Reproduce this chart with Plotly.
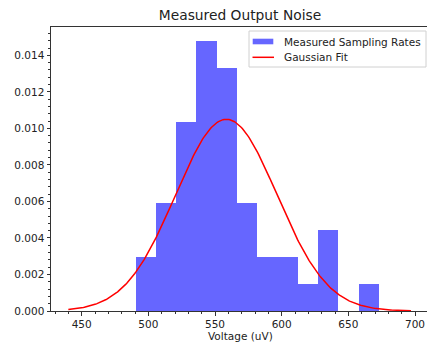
import numpy as np
import plotly.graph_objects as go

# Histogram (density)
bin_start = 490.5
bin_width = 15.2
density = [0.00296, 0.00593, 0.01037, 0.01481, 0.01333, 0.00593,
           0.00296, 0.00296, 0.00148, 0.00444, 0.0, 0.00148]

# Gaussian fit parameters
fit_mu = 558.5
fit_sigma = 38.0
fit_xmin = 440.0
fit_xmax = 697.0

x_ticks = [450, 500, 550, 600, 650, 700]
y_ticks = [0.000, 0.002, 0.004, 0.006, 0.008, 0.010, 0.012, 0.014]
legend_labels = ["Measured Sampling Rates", "Gaussian Fit"]
x_title = "Voltage (uV)"

edges = bin_start + bin_width * np.arange(len(density))
xs = np.linspace(fit_xmin, fit_xmax, 300)
ys = np.exp(-0.5 * ((xs - fit_mu) / fit_sigma) ** 2) / (fit_sigma * np.sqrt(2 * np.pi))

FONT = "DejaVu Sans"
TXT = "#222222"
BAR = "#6666ff"
RED = "#ff0000"

fig = go.Figure()
fig.add_trace(go.Bar(
    x=edges, y=density, width=bin_width, offset=0,
    marker=dict(color=BAR, line=dict(width=0)),
    name=legend_labels[0], showlegend=False,
))
fig.add_trace(go.Scatter(
    x=xs, y=ys, mode="lines", line=dict(color=RED, width=1.5),
    name=legend_labels[1], showlegend=False,
))

# plot area geometry in window pixels
L, T, W, H = 51, 27, 376, 284
def px(xp):
    return (xp - L) / W
def py(yp):
    return (T + H - yp) / H

shapes = [
    dict(type="rect", xref="paper", yref="paper",
         x0=px(249), x1=px(426), y0=py(67), y1=py(31),
         line=dict(color="#d0d0d0", width=1), fillcolor="rgba(255,255,255,0.85)", layer="above"),
    dict(type="rect", xref="paper", yref="paper",
         x0=px(252.7), x1=px(273.3), y0=py(44.3), y1=py(38.7),
         line=dict(width=0), fillcolor=BAR, layer="above"),
    dict(type="line", xref="paper", yref="paper",
         x0=px(252.5), x1=px(274), y0=py(57.3), y1=py(57.3),
         line=dict(color=RED, width=1.5), layer="above"),
]
annotations = [
    dict(text=legend_labels[0], xref="paper", yref="paper", x=px(282), y=py(41.7),
         xanchor="left", yanchor="middle", showarrow=False,
         font=dict(family=FONT, size=10.5, color=TXT)),
    dict(text=legend_labels[1], xref="paper", yref="paper", x=px(282), y=py(57.3),
         xanchor="left", yanchor="middle", showarrow=False,
         font=dict(family=FONT, size=10.5, color=TXT)),
    dict(text=x_title, xref="paper", yref="paper", x=px(240.5), y=py(336),
         xanchor="center", yanchor="middle", showarrow=False,
         font=dict(family=FONT, size=10.5, color=TXT)),
]

fig.update_layout(
    width=427, height=342,
    margin=dict(l=L, r=0, t=T, b=342 - T - H),
    paper_bgcolor="white", plot_bgcolor="white",
    bargap=0,
    font=dict(family=FONT, size=10.5, color=TXT),
    title=dict(text="Measured Output Noise", x=240/427, xanchor="center",
               xref="container", y=1 - 15.5/342, yanchor="middle",
               font=dict(family=FONT, size=13.8, color=TXT)),
    showlegend=False,
    shapes=shapes,
    annotations=annotations,
)
fig.update_xaxes(
    range=[427, 709], tickvals=x_ticks, ticktext=[str(v) for v in x_ticks],
    automargin=False,
    showgrid=False, zeroline=False, showline=True, linecolor="#333333", linewidth=1,
    mirror=True, ticks="outside", ticklen=3.5, tickcolor="#333333",
    minor=dict(dtick=10, tick0=0, ticks="outside", ticklen=2, tickcolor="#333333"),
)
fig.update_yaxes(
    range=[0, 0.01555], tickvals=y_ticks, ticktext=[f"{v:.3f}" for v in y_ticks],
    automargin=False,
    showgrid=False, zeroline=False, showline=True, linecolor="#333333", linewidth=1,
    mirror=False, ticks="outside", ticklen=3.5, tickcolor="#333333",
    minor=dict(dtick=0.0004, tick0=0, ticks="outside", ticklen=2, tickcolor="#333333"),
)

fig.write_html("out.html", config={"displayModeBar": False},
               post_script="document.body.style.margin='0';document.body.style.overflow='hidden';")
